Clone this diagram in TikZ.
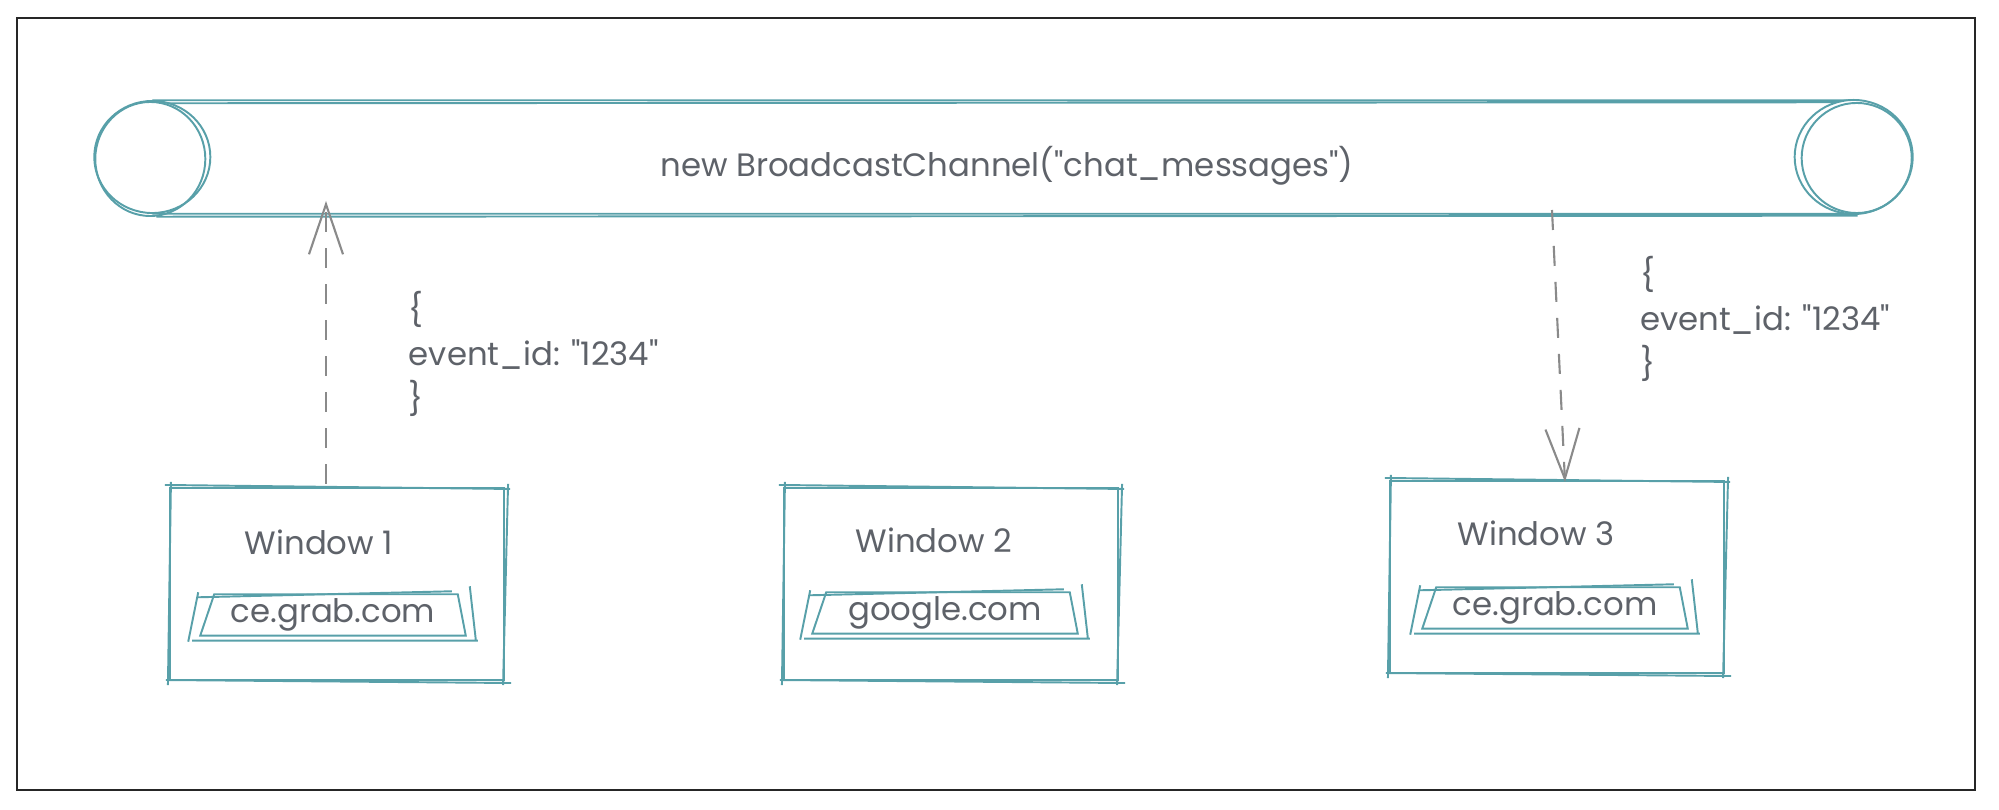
\documentclass[tikz,border=0pt]{standalone}
\usepackage{fontspec}
\setmainfont{Poppins}[Ligatures=TeXOff]
\usetikzlibrary{arrows.meta}

\definecolor{chanteal}{HTML}{58A0A9}
\definecolor{textgray}{HTML}{5E6269}
\definecolor{arrowgray}{HTML}{8A8A8A}

\tikzset{
  sketch/.style={draw=chanteal, line width=0.55pt},
  wintext/.style={text=textgray, font=\fontsize{9.2}{12.6}\selectfont},
  window/.style={sketch, minimum width=3.34cm, minimum height=1.92cm},
  urlbox/.style={wintext, minimum width=2.6cm, minimum height=0.4cm, inner sep=0pt},
  msg/.style={arrowgray, line width=0.6pt, dash pattern=on 2mm off 1.6mm,
    -{Straight Barb[length=5mm,width=3.4mm]}},
  msgtext/.style={wintext, align=left}
}

% second, slightly shifted stroke round a node
\newcommand{\roughbox}[1]{%
  \draw[sketch] ([shift={(-4,-2)}]#1.north west) -- ([shift={(5,2)}]#1.north east)
    ([shift={(3,-3)}]#1.north east) -- ([shift={(-2,4)}]#1.south east)
    ([shift={(6,2)}]#1.south east) -- ([shift={(-3,-1)}]#1.south west)
    ([shift={(-1,4)}]#1.south west) -- ([shift={(2,-5)}]#1.north west);
}
\newcommand{\urlframe}[1]{%
  \draw[sketch] ([shift={(12,0)}]#1.north west) -- ([shift={(-6,0)}]#1.north east)
    -- ([shift={(2,0)}]#1.south east) -- ([shift={(-2,0)}]#1.south west) -- cycle;
  \draw[sketch] ([shift={(-4,3)}]#1.north west) -- ([shift={(-12,-3)}]#1.north east)
    ([shift={(-10,5)}]#1.south west) -- ([shift={(14,5)}]#1.south east)
    ([shift={(-14,6)}]#1.south west) -- ([shift={(-4,-2)}]#1.north west)
    ([shift={(6,-8)}]#1.north east) -- ([shift={(12,4)}]#1.south east);
}

\begin{document}
\begin{tikzpicture}[x=0.01cm,y=-0.01cm]
\useasboundingbox (0,0) rectangle (1999,810);
\draw[black!85, line width=0.6pt] (17,18) rectangle (1975,790);

\node[minimum width=16.99cm, minimum height=1.12cm, inner sep=0pt] (chan) at (1003,157) {};
\draw[sketch] (chan.north west) -- (chan.north east)
  ([shift={(12,3)}]chan.north west) -- ([shift={(-10,2)}]chan.north east)
  (chan.south west) -- (chan.south east)
  ([shift={(4,3)}]chan.south west) -- ([shift={(4,2)}]chan.south east);
\draw[sketch, fill=white] (chan.west) circle [x radius=5.8mm, y radius=5.6mm];
\draw[sketch] ([shift={(-2,2)}]chan.west) circle [x radius=5.5mm, y radius=5.7mm];
\draw[sketch, fill=white] (chan.east) circle [x radius=5.9mm, y radius=5.7mm];
\draw[sketch] ([shift={(3,1)}]chan.east) circle [x radius=5.5mm, y radius=5.5mm];
\node[wintext] (chantitle) at (1007,166) {new BroadcastChannel("chat\_messages")};

\node[window] (win1) at (337,584) {};
\node[window] (win2) at (951,584) {};
\node[window] (win3) at (1557,577) {};
\roughbox{win1}
\roughbox{win2}
\roughbox{win3}

\node[wintext] (title1) at (319,542) {Window 1};
\node[wintext] (title2) at (934,540) {Window 2};
\node[wintext] (title3) at (1536,533) {Window 3};

\node[urlbox] (url1) at (333,615) {ce.grab.com};
\node[urlbox] (url2) at (945,613) {google.com};
\node[urlbox] (url3) at (1555,608) {ce.grab.com};
\urlframe{url1}
\urlframe{url2}
\urlframe{url3}

\coordinate (up1) at (326,484);
\coordinate (in1) at (326,201);
\coordinate (out3) at (1552,210);
\coordinate (in3) at (1565,482);

\path[msg] (up1) edge node[msgtext, pos=0.46, right=7mm] (msg1) {\{\\event\_id: "1234"\\\}} (in1);
\path[msg] (out3) edge node[msgtext, pos=0.4, right=7mm] (msg3) {\{\\event\_id: "1234"\\\}} (in3);
\end{tikzpicture}
\end{document}
